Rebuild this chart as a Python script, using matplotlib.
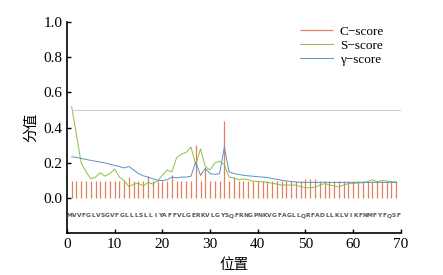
import matplotlib
matplotlib.use("Agg")
import matplotlib.pyplot as plt

positions = list(range(1, 70))
c_score = [0.10, 0.10, 0.10, 0.10, 0.10, 0.10, 0.10, 0.10, 0.10, 0.10,
           0.10, 0.10, 0.12, 0.10, 0.10, 0.10, 0.125, 0.10, 0.10, 0.10,
           0.10, 0.13, 0.10, 0.10, 0.10, 0.10, 0.30, 0.10, 0.17, 0.10,
           0.10, 0.10, 0.44, 0.10, 0.12, 0.10, 0.10, 0.10, 0.10, 0.10,
           0.10, 0.10, 0.10, 0.10, 0.10, 0.10, 0.10, 0.10, 0.10, 0.11,
           0.11, 0.11, 0.10, 0.10, 0.10, 0.10, 0.10, 0.10, 0.10, 0.10,
           0.10, 0.10, 0.10, 0.10, 0.10, 0.10, 0.10, 0.10, 0.10]
s_score = [0.52, 0.36, 0.20, 0.15, 0.11, 0.12, 0.145, 0.125, 0.14, 0.165,
           0.12, 0.10, 0.065, 0.08, 0.085, 0.07, 0.09, 0.08, 0.10, 0.13,
           0.16, 0.15, 0.23, 0.25, 0.26, 0.29, 0.19, 0.28, 0.18, 0.16,
           0.20, 0.21, 0.19, 0.12, 0.115, 0.105, 0.11, 0.105, 0.097, 0.095,
           0.093, 0.09, 0.085, 0.08, 0.075, 0.075, 0.075, 0.074, 0.065, 0.06,
           0.06, 0.062, 0.075, 0.083, 0.076, 0.07, 0.065, 0.075, 0.083, 0.083,
           0.087, 0.088, 0.095, 0.105, 0.093, 0.10, 0.098, 0.093, 0.092]
y_score = [0.235, 0.232, 0.226, 0.22, 0.215, 0.21, 0.205, 0.20, 0.193, 0.186,
           0.18, 0.172, 0.18, 0.16, 0.14, 0.127, 0.12, 0.11, 0.102, 0.10,
           0.105, 0.12, 0.115, 0.12, 0.12, 0.125, 0.205, 0.13, 0.17, 0.14,
           0.135, 0.14, 0.29, 0.15, 0.14, 0.135, 0.13, 0.127, 0.125, 0.122,
           0.12, 0.118, 0.112, 0.107, 0.102, 0.098, 0.095, 0.092, 0.09, 0.09,
           0.09, 0.09, 0.09, 0.091, 0.09, 0.09, 0.09, 0.09, 0.09, 0.09,
           0.09, 0.09, 0.09, 0.09, 0.09, 0.09, 0.09, 0.09, 0.09]
sequence = "MVVFGLVSGVFGLLLSLLIYAFFVLGERKVLGYSQFRNGPNKVGFAGLLQRFADLLKLVIKFNMFYFQSF"
threshold = 0.5
x_ticks = [0, 10, 20, 30, 40, 50, 60, 70]
y_ticks = [0.0, 0.2, 0.4, 0.6, 0.8, 1.0]

serif = ["Liberation Serif", "DejaVu Serif"]
cjk = ["Noto Sans CJK SC", "DejaVu Sans"]

fig = plt.figure(figsize=(4.43, 2.75), dpi=100)
ax = fig.add_axes([0.151, 0.151, 0.754, 0.769])

c_col = "#e2805f"
s_col = "#8cc043"
g_col = "#5b92c6"

ax.vlines(positions, 0, c_score, colors=c_col, linewidth=0.9, label="C\u2212score")
ax.plot(positions, s_score, color=s_col, linewidth=0.7, label="S\u2212score")
ax.plot(positions, y_score, color=g_col, linewidth=0.7, label="\u03b3\u2212score")
ax.plot([1, 70], [threshold, threshold], color="#c8c8c8", linewidth=0.7)

for i, ch in enumerate(sequence):
    ax.text(i + 0.5, -0.1, ch, ha="center", va="center", fontsize=4.3,
            color="#555555", family="DejaVu Sans", fontweight="bold")

ax.set_xlim(0, 70)
ax.set_ylim(-0.2, 1.0)
ax.set_xticks(x_ticks)
ax.set_yticks(y_ticks)
ax.set_yticklabels([f"{v:.1f}" for v in y_ticks])
ax.spines["top"].set_visible(False)
ax.spines["right"].set_visible(False)
ax.spines["left"].set_bounds(-0.2, 1.0)
for s in ("left", "bottom"):
    ax.spines[s].set_linewidth(1.2)
ax.tick_params(direction="in", length=3, width=1, labelsize=11, pad=3)
for lab in ax.get_xticklabels() + ax.get_yticklabels():
    lab.set_family(serif)

ax.set_xlabel("位置", family=cjk, fontsize=10.5, labelpad=5)
ax.set_ylabel("分值", family=cjk, fontsize=10.5, labelpad=4)

leg = ax.legend(loc="upper right", bbox_to_anchor=(0.985, 1.04), frameon=False,
                prop={"family": serif, "size": 9.5}, handlelength=2.5,
                labelspacing=0.15, handletextpad=0.5)

fig.savefig("out.png", dpi=100)
